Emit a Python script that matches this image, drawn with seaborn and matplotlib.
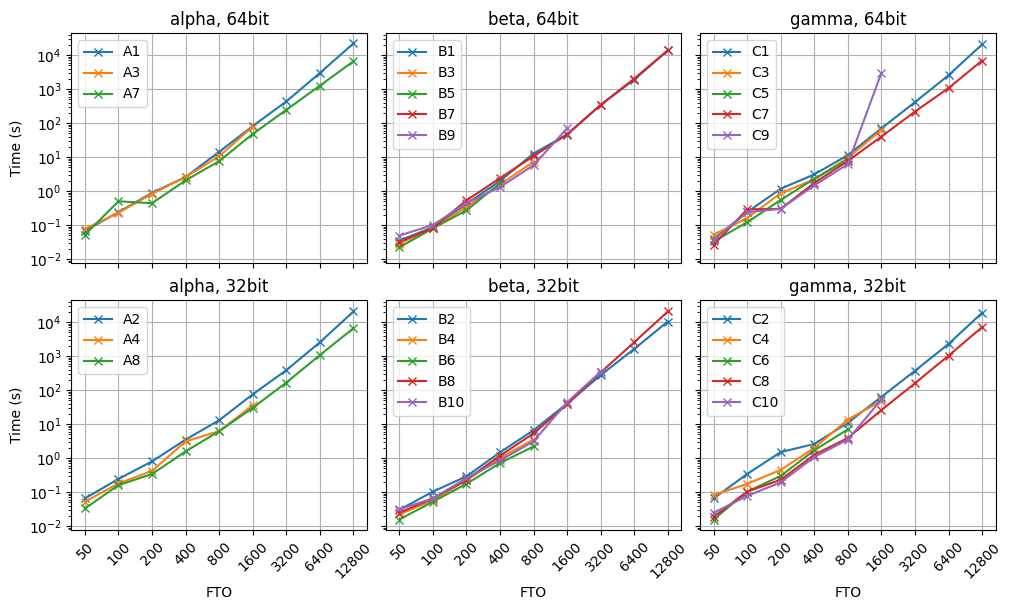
import pandas as pd
import matplotlib
matplotlib.use("Agg")
import matplotlib.pyplot as plt
import seaborn as sns
from matplotlib.ticker import NullLocator

fto = [50, 100, 200, 400, 800, 1600, 3200, 6400, 12800]

# alpha
A1 = [0.068, 0.24, 0.89, 2.6, 14.3, 82, 433, 2990, 22000]
A3 = [0.077, 0.23, 0.83, 2.6, 10.6, 79]
A7 = [0.052, 0.50, 0.44, 2.07, 7.6, 48, 245, 1260, 6600]
A2 = [0.065, 0.244, 0.80, 3.5, 13, 75, 386, 2550, 20500]
A4 = [0.052, 0.18, 0.42, 3.1, 6.2, 35.6]
A8 = [0.033, 0.16, 0.34, 1.57, 6.2, 30, 167, 1070, 6600]

# beta
B1 = [0.035, 0.086, 0.42, 1.98, 12.7, 46, 340, 1900, 13700]
B3 = [0.028, 0.082, 0.34, 1.58, 7.2]
B5 = [0.022, 0.080, 0.27, 1.69]
B7 = [0.032, 0.082, 0.53, 2.4, 10.6, 46.6, 343, 2030, 13700]
B9 = [0.049, 0.10, 0.44, 1.31, 5.75, 70]
B2 = [0.030, 0.103, 0.29, 1.47, 6.6, 40, 275, 1620, 10400]
B4 = [0.022, 0.058, 0.22, 1.0, 3.5]
B6 = [0.0156, 0.052, 0.174, 0.71, 2.2]
B8 = [0.0245, 0.065, 0.23, 1.17, 5.3, 38, 330, 2550, 20500]
B10 = [0.031, 0.065, 0.255, 0.85, 3.1, 44, 345]

# gamma
C1 = [0.039, 0.24, 1.17, 3.1, 11.4, 70, 413, 2550, 20600]
C3 = [0.052, 0.16, 0.87, 2.2, 9.5, 63]
C5 = [0.033, 0.12, 0.55, 2.3, 8.5]
C7 = [0.026, 0.29, 0.30, 1.73, 7.7, 40, 218, 1070, 6900]
C9 = [0.036, 0.24, 0.30, 1.47, 6.2, 3000]
C2 = [0.065, 0.34, 1.5, 2.6, 10.9, 63, 370, 2280, 18700]
C4 = [0.082, 0.174, 0.45, 1.98, 13.6, 48]
C6 = [0.0156, 0.103, 0.30, 1.69, 7.0]
C8 = [0.0187, 0.103, 0.23, 1.25, 3.9, 25.8, 159, 1030, 7100]
C10 = [0.0245, 0.077, 0.194, 1.07, 3.5, 53]

panels = [
    ("alpha, 64bit", {"A1": A1, "A3": A3, "A7": A7}),
    ("beta, 64bit", {"B1": B1, "B3": B3, "B5": B5, "B7": B7, "B9": B9}),
    ("gamma, 64bit", {"C1": C1, "C3": C3, "C5": C5, "C7": C7, "C9": C9}),
    ("alpha, 32bit", {"A2": A2, "A4": A4, "A8": A8}),
    ("beta, 32bit", {"B2": B2, "B4": B4, "B6": B6, "B8": B8, "B10": B10}),
    ("gamma, 32bit", {"C2": C2, "C4": C4, "C6": C6, "C8": C8, "C10": C10}),
]

colors = sns.color_palette("tab10")

fig, axes = plt.subplots(2, 3, figsize=(10.11, 6.11), dpi=100,
                         sharex=True, sharey=True)
fig.subplots_adjust(left=0.0707, right=0.9847, top=0.946, bottom=0.1326,
                    wspace=0.064, hspace=0.161)

for ax, (title, series) in zip(axes.flat, panels):
    for i, (name, vals) in enumerate(series.items()):
        df = pd.DataFrame({"FTO": fto[:len(vals)], "time": vals})
        sns.lineplot(data=df, x="FTO", y="time", ax=ax, color=colors[i],
                     marker="x", markersize=6, markeredgewidth=1.0,
                     markeredgecolor=colors[i], label=name)
    ax.set_title(title, fontsize=12)
    ax.set_yscale("log")
    ax.set_xscale("log", base=2)
    ax.legend(loc="upper left", fontsize=10)
    ax.grid(True, color="#b0b0b0", linewidth=0.8)
    ax.set_axisbelow(True)
    ax.set_xlabel("")
    ax.set_ylabel("")

for ax in axes.flat:
    ax.set_xticks(fto)
    ax.set_xticklabels([str(v) for v in fto], rotation=45)
    ax.xaxis.set_minor_locator(NullLocator())

for ax in axes[1]:
    ax.set_xlabel("FTO")
for ax in axes[:, 0]:
    ax.set_ylabel("Time (s)")

fig.savefig("out.png", dpi=100)
